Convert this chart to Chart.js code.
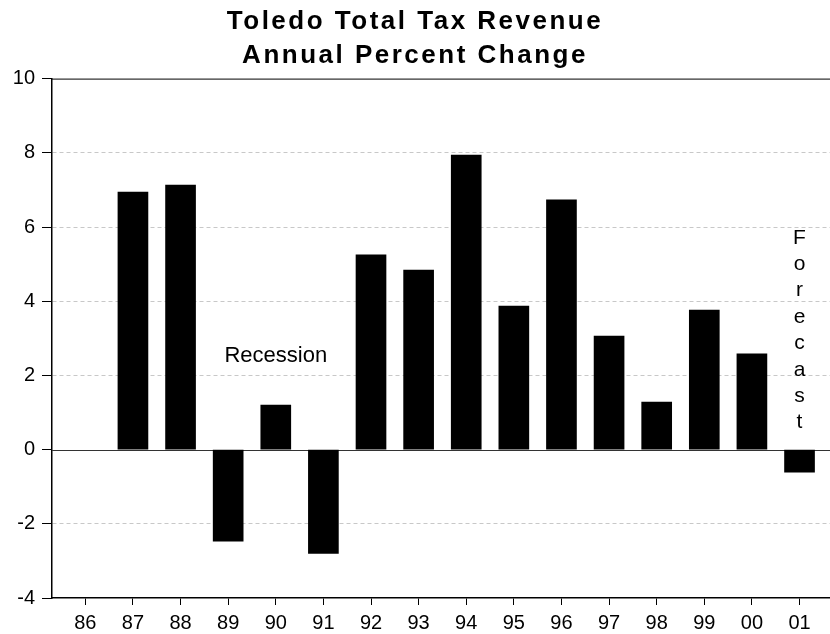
<!DOCTYPE html>
<html lang="en">
<head>
<meta charset="UTF-8">
<title>Toledo Total Tax Revenue</title>
<script src="https://cdn.jsdelivr.net/npm/chart.js@4"></script>
<style>
  body { margin: 0; background: #fff; }
  .wrap { width: 830px; height: 634px; }
</style>
</head>
<body>
<div class="wrap"><canvas id="taxChart"></canvas></div>
<script>
const years = ['86', '87', '88', '89', '90', '91', '92', '93', '94', '95', '96', '97', '98', '99', '00', '01'];
const changes = [null, 6.94, 7.13, -2.47, 1.20, -2.80, 5.25, 4.84, 7.94, 3.87, 6.73, 3.06, 1.28, 3.76, 2.58, -0.61];
const forecastLetters = ['F', 'o', 'r', 'e', 'c', 'a', 's', 't'];

const FONT = '"Liberation Sans", Arial, sans-serif';

// solid zero line and top frame line (grid lines elsewhere are dashed)
const frame = {
  id: 'frame',
  beforeDatasetsDraw(chart) {
    const { ctx, chartArea: a, scales: { y } } = chart;
    const y0 = Math.round(y.getPixelForValue(0)) + 0.5;
    ctx.save();
    ctx.lineWidth = 1;
    ctx.strokeStyle = '#333';
    ctx.beginPath();
    ctx.moveTo(a.left, y0);
    ctx.lineTo(a.right, y0);
    ctx.stroke();
    ctx.strokeStyle = '#000';
    ctx.beginPath();
    ctx.moveTo(a.left, a.top + 0.5);
    ctx.lineTo(a.right, a.top + 0.5);
    ctx.stroke();
    ctx.restore();
  }
};

// "Recession" and the vertical "Forecast" notes
const notes = {
  id: 'notes',
  afterDatasetsDraw(chart) {
    const { ctx, scales: { x, y } } = chart;
    ctx.save();
    ctx.fillStyle = '#000';
    ctx.textAlign = 'center';
    ctx.textBaseline = 'middle';
    ctx.font = '22px ' + FONT;
    ctx.fillText('Recession', x.getPixelForValue(4), y.getPixelForValue(2.53));
    ctx.font = '21px ' + FONT;
    forecastLetters.forEach((ch, k) => {
      ctx.fillText(ch, x.getPixelForValue(15), y.getPixelForValue(5.71 - 0.712 * k));
    });
    ctx.restore();
  }
};

const chart = new Chart(document.getElementById('taxChart'), {
  type: 'bar',
  data: {
    datasets: [{
      data: changes.map((v, i) => ({ x: i, y: v })),
      backgroundColor: '#000',
      barThickness: 30
    }]
  },
  options: {
    responsive: true,
    maintainAspectRatio: false,
    animation: false,
    layout: { padding: 0 },
    plugins: {
      legend: { display: false },
      tooltip: { enabled: false },
      title: {
        display: true,
        text: ['Toledo Total Tax Revenue', 'Annual Percent Change'],
        color: '#000',
        font: { family: FONT, size: 26, weight: 'bold', lineHeight: 1.3 },
        padding: { top: 5, bottom: 6 }
      }
    },
    scales: {
      x: {
        type: 'linear',
        offset: false,
        min: -0.7,
        max: 15.64,
        afterFit(scale) { scale.height = 36; },
        grid: { offset: false, drawOnChartArea: false, drawTicks: true, tickLength: 7, tickColor: '#000', tickWidth: 1 },
        border: { display: true, color: '#000', width: 1.5 },
        ticks: {
          stepSize: 1,
          includeBounds: false,
          color: '#000',
          padding: 6,
          maxRotation: 0,
          font: { family: FONT, size: 20 },
          callback: v => years[v]
        }
      },
      y: {
        min: -4,
        max: 10,
        afterFit(scale) { scale.width = 52; },
        grid: {
          color: ctx => [0, 10, -4].includes(ctx.tick.value) ? 'rgba(0,0,0,0)' : '#c8c8c8',
          lineWidth: 1,
          tickLength: 10,
          tickColor: '#000',
          tickWidth: 1
        },
        border: { display: true, color: '#000', width: 1.5, dash: [4, 3] },
        ticks: {
          stepSize: 2,
          color: '#000',
          padding: 7,
          font: { family: FONT, size: 20 }
        }
      }
    }
  },
  plugins: [frame, notes]
});

// wider letter spacing for the title, as in the original
const titleBox = chart.titleBlock;
const drawTitle = titleBox.draw.bind(titleBox);
titleBox.draw = area => {
  chart.ctx.save();
  chart.ctx.letterSpacing = '2.5px';
  drawTitle(area);
  chart.ctx.restore();
};
chart.draw();
</script>
</body>
</html>
